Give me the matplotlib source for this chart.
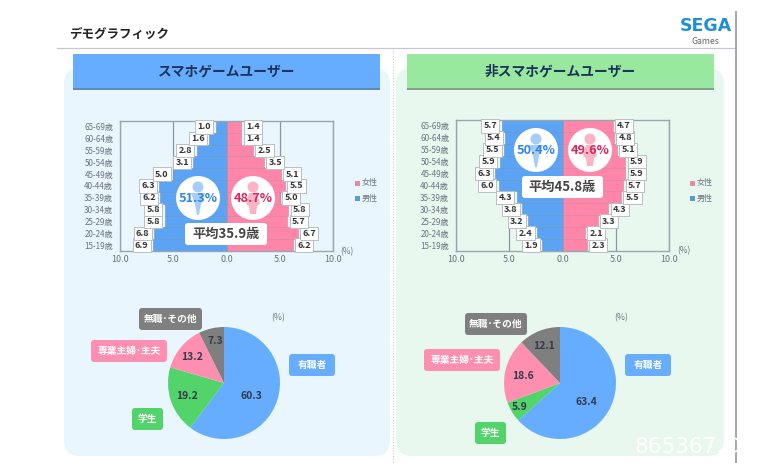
import matplotlib
matplotlib.use('Agg')
import matplotlib.pyplot as plt
from matplotlib.patches import FancyBboxPatch, Rectangle, Circle, Polygon

plt.rcParams['font.family'] = ['Noto Sans CJK JP', 'DejaVu Sans']

W, H = 769, 463

# data
ages = ['15-19歳', '20-24歳', '25-29歳', '30-34歳', '35-39歳', '40-44歳',
        '45-49歳', '50-54歳', '55-59歳', '60-64歳', '65-69歳']
sp_male = [6.9, 6.8, 5.8, 5.8, 6.2, 6.3, 5.0, 3.1, 2.8, 1.6, 1.0]
sp_female = [6.2, 6.7, 5.7, 5.8, 5.0, 5.5, 5.1, 3.5, 2.5, 1.4, 1.4]
non_male = [1.9, 2.4, 3.2, 3.8, 4.3, 6.0, 6.3, 5.9, 5.5, 5.4, 5.7]
non_female = [2.3, 2.1, 3.3, 4.3, 5.5, 5.7, 5.9, 5.9, 5.1, 4.8, 4.7]
sp_job = [60.3, 19.2, 13.2, 7.3]
non_job = [63.4, 5.9, 18.6, 12.1]
job_colors = ['#66adff', '#52d46a', '#ff8fb1', '#7f7f7f']
xticks = [-10, -5, 0, 5, 10]
xtick_labels = ['10.0', '5.0', '0.0', '5.0', '10.0']

BLUE = '#5ba4f5'
PINK = '#ff86a8'
GRAY = '#6b7580'

fig = plt.figure(figsize=(W / 100, H / 100), dpi=100, facecolor='white')


def px_axes(x0, y0, x1, y1, zorder):
    return fig.add_axes([x0 / W, 1 - y1 / H, (x1 - x0) / W, (y1 - y0) / H], zorder=zorder)


def rbox(ax, x0, y0, x1, y1, color, r=3, ec='none', lw=0, zorder=2):
    p = FancyBboxPatch((x0 + r, y0 + r), x1 - x0 - 2 * r, y1 - y0 - 2 * r,
                       boxstyle='round,pad=%g,rounding_size=%g' % (r, r),
                       fc=color, ec=ec, lw=lw, zorder=zorder)
    ax.add_patch(p)


# background layer
bg = fig.add_axes([0, 0, 1, 1], zorder=0)
bg.set_xlim(0, W)
bg.set_ylim(H, 0)
bg.axis('off')

rbox(bg, 64, 68, 390, 456, '#eaf6fe', r=16, zorder=1)
rbox(bg, 396, 68, 724, 456, '#e9f8ee', r=16, zorder=1)
bg.plot([393, 393], [50, 463], color='#c8ccd0', lw=0.8, ls=(0, (1, 1.5)))
bg.plot([57, 735], [48, 48], color='#c9c5d2', lw=0.9)
bg.plot([735.5, 735.5], [12, 463], color='#a9aab0', lw=1.5)

bg.text(69, 34, 'デモグラフィック', fontsize=9, fontweight='bold', color='#222222', va='center')
bg.text(705.5, 26, 'SEGA', fontsize=12.5, fontweight='bold', color='#1c8fd6', ha='center',
        va='center', family='DejaVu Sans')
bg.text(705, 41, 'Games', fontsize=6.3, color='#666666', ha='center', va='center')

# header bars
for x0, x1, col, shade, name in [(73, 380, '#66adff', '#3d6f9e', 'スマホゲームユーザー'),
                                 (407, 714, '#98e8a0', '#6b8f70', '非スマホゲームユーザー')]:
    bg.add_patch(Rectangle((x0, 56), x1 - x0, 34, fc=shade, ec='none', alpha=0.8, zorder=3))
    bg.add_patch(Rectangle((x0, 54), x1 - x0, 34, fc=col, ec='none', zorder=4))
    bg.text((x0 + x1) / 2, 71, name, fontsize=9.9, fontweight='bold', color='#1f3358',
            ha='center', va='center', zorder=5)


def pyramid(box, male, female):
    ax = px_axes(box[0], box[1], box[2], box[3], 1)
    ax.patch.set_alpha(0)
    y = range(len(ages))
    ax.barh(y, [-v for v in male], height=1.0, color=BLUE, edgecolor='#6f93b8', lw=0.4, zorder=2)
    ax.barh(y, female, height=1.0, color=PINK, edgecolor='#c98aa0', lw=0.4, zorder=2)
    ax.set_xlim(-10, 10)
    ax.set_ylim(-0.5, len(ages) - 0.5)
    ax.set_xticks(xticks)
    ax.set_xticklabels(xtick_labels, fontsize=6.5, color=GRAY)
    ax.set_yticks(list(y))
    ax.set_yticklabels(ages, fontsize=5.8, color=GRAY)
    ax.tick_params(length=0, pad=3)
    ax.tick_params(axis='y', pad=5)
    ax.grid(axis='x', color='#8a979f', lw=0.9, zorder=1)
    for s in ax.spines.values():
        s.set_color('#98a6b0')
        s.set_linewidth(1.0)
    lab = dict(boxstyle='square,pad=0.25', fc='white', ec='#b9bfc2', lw=0.7)
    for i, (m, f) in enumerate(zip(male, female)):
        ax.annotate('%.1f' % m, (-m, i), xytext=(-8.2, 0), textcoords='offset points', fontsize=6.5,
                    fontweight='bold', color='#333333', ha='center', va='center', bbox=lab, zorder=5,
                    annotation_clip=False)
        ax.annotate('%.1f' % f, (f, i), xytext=(8.2, 0), textcoords='offset points', fontsize=6.5,
                    fontweight='bold', color='#333333', ha='center', va='center', bbox=lab, zorder=5,
                    annotation_clip=False)


def pie(cx, cy, r, values):
    ax = px_axes(cx - r, cy - r, cx + r, cy + r, 1)
    ax.pie(values, colors=job_colors, startangle=90, counterclock=False, radius=1.0,
           wedgeprops=dict(lw=0))
    ax.set_xlim(-1, 1)
    ax.set_ylim(-1, 1)


pyramid((120, 121, 333, 251), sp_male, sp_female)
pyramid((456, 120, 669, 251), non_male, non_female)
pie(224, 383, 56, sp_job)
pie(560, 383, 56, non_job)

# overlay layer
top = fig.add_axes([0, 0, 1, 1], zorder=3)
top.set_xlim(0, W)
top.set_ylim(H, 0)
top.axis('off')
top.patch.set_alpha(0)


def gender_badge(cx, cy, icon, color, text):
    top.add_patch(Circle((cx, cy), 22, fc='white', ec='none', zorder=2))
    top.add_patch(Circle((cx, cy - 11), 5.5, fc=icon, ec='none', zorder=3))
    if icon == '#a5cdf7':
        top.add_patch(Polygon([(cx - 7, cy - 5), (cx + 7, cy - 5), (cx + 3, cy + 6), (cx + 1, cy + 17),
                               (cx - 1, cy + 17), (cx - 3, cy + 6)], fc=icon, ec='none', zorder=3))
    else:
        top.add_patch(Polygon([(cx - 4, cy - 5), (cx + 4, cy - 5), (cx + 7, cy + 6), (cx + 4, cy + 8),
                               (cx + 3, cy + 16), (cx - 3, cy + 16), (cx - 4, cy + 8), (cx - 7, cy + 6)],
                              fc=icon, ec='none', zorder=3))
    top.text(cx, cy, text, fontsize=9.2, fontweight='bold', color=color, ha='center', va='center', zorder=4)


gender_badge(198, 198, '#a5cdf7', '#2f86e8', '51.3%')
gender_badge(253, 198, '#fbb4c6', '#e0245e', '48.7%')
gender_badge(536, 150, '#a5cdf7', '#2f86e8', '50.4%')
gender_badge(590, 150, '#fbb4c6', '#e0245e', '49.6%')

for x0, y0, x1, y1, txt in [(185, 223, 267, 245, '平均35.9歳'), (522, 176, 603, 198, '平均45.8歳')]:
    rbox(top, x0, y0, x1, y1, 'white', r=3)
    top.text((x0 + x1) / 2, (y0 + y1) / 2, txt, fontsize=9.5, fontweight='bold', color='#444444',
             ha='center', va='center', zorder=4)

# legends and unit marks
for lx, ux, uy in [(357, 347, 252), (692, 684, 251)]:
    top.add_patch(Rectangle((lx - 2.5, 180.5), 5, 5, fc='#e88aa5', ec='none'))
    top.add_patch(Rectangle((lx - 2.5, 195.5), 5, 5, fc='#5b9bd5', ec='none'))
    top.text(lx + 5, 183, '女性', fontsize=5.8, color=GRAY, va='center')
    top.text(lx + 5, 198, '男性', fontsize=5.8, color=GRAY, va='center')
    top.text(ux, uy, '(%)', fontsize=6, color=GRAY, ha='center', va='center')

# pie labels
job_boxes = [
    (139, 308, 202, 330, '無職･その他', '#7f7f7f'), (91, 340, 167, 362, '専業主婦･主夫', '#ff8fb1'),
    (132, 408, 163, 430, '学生', '#52d46a'), (289, 354, 335, 376, '有職者', '#66adff'),
    (465, 313, 527, 335, '無職･その他', '#7f7f7f'), (424, 349, 500, 371, '専業主婦･主夫', '#ff8fb1'),
    (475, 422, 506, 444, '学生', '#52d46a'), (625, 354, 671, 376, '有職者', '#66adff'),
]
for x0, y0, x1, y1, txt, col in job_boxes:
    rbox(top, x0, y0, x1, y1, col, r=3)
    top.text((x0 + x1) / 2, (y0 + y1) / 2, txt, fontsize=7, fontweight='bold', color='white',
             ha='center', va='center', zorder=4)

pie_text_pos = [(251, 396), (187, 396), (192, 357), (215, 341)]
for (tx, ty), v in zip(pie_text_pos, sp_job):
    top.text(tx, ty, '%.1f' % v, fontsize=7.5, fontweight='bold', color='#333a4a', ha='center', va='center')
pie_text_pos = [(586, 402), (520, 407), (523, 376), (544, 346)]
for (tx, ty), v in zip(pie_text_pos, non_job):
    top.text(tx, ty, '%.1f' % v, fontsize=7.5, fontweight='bold', color='#333a4a', ha='center', va='center')

top.text(278, 318, '(%)', fontsize=6.3, color=GRAY, ha='center', va='center')
top.text(621, 318, '(%)', fontsize=6.3, color=GRAY, ha='center', va='center')

# watermark
top.text(635, 447, '865367.C', fontsize=15.5, color='white', va='center', family='DejaVu Sans')

fig.savefig('out.png', dpi=100, facecolor='white')
